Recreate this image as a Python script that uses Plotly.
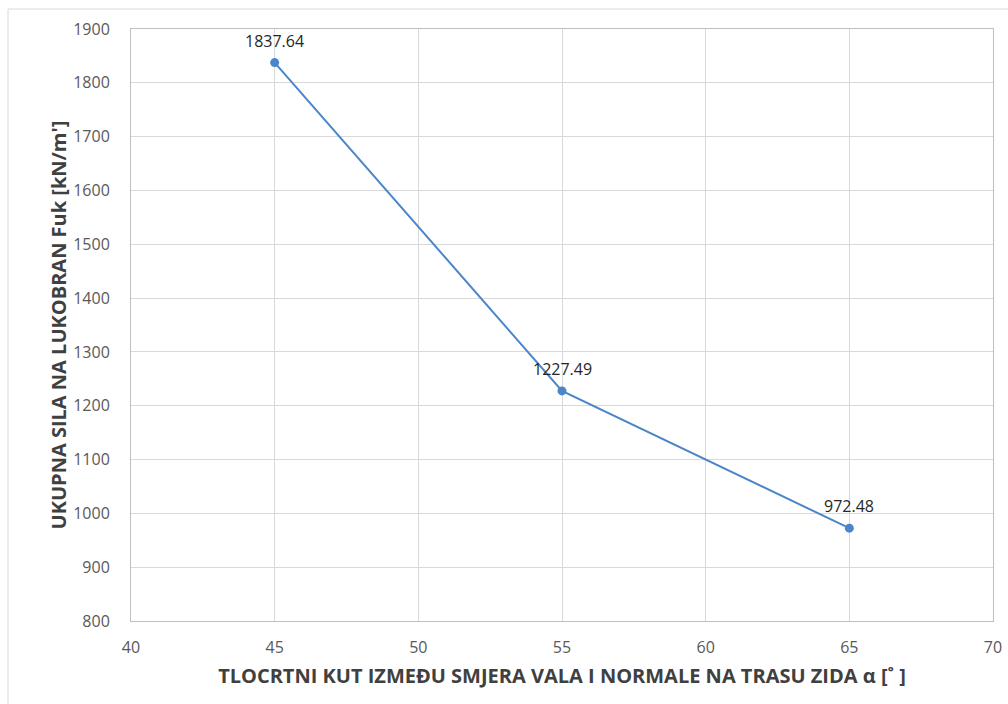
import plotly.graph_objects as go

angles = [45, 55, 65]
forces = [1837.64, 1227.49, 972.48]
labels = ["1837.64", "1227.49", "972.48"]
x_ticks = [40, 45, 50, 55, 60, 65, 70]
y_ticks = [800, 900, 1000, 1100, 1200, 1300, 1400, 1500, 1600, 1700, 1800, 1900]

FONT = "Open Sans"
BLUE = "#4a86c8"

fig = go.Figure()
fig.add_trace(go.Scatter(
    x=angles, y=forces, mode="lines+markers",
    line=dict(color=BLUE, width=2),
    marker=dict(color=BLUE, size=9),
    cliponaxis=False, showlegend=False,
))

for xv, yv, lab in zip(angles, forces, labels):
    fig.add_annotation(x=xv, y=yv, text=lab, showarrow=False,
                       yanchor="middle", xanchor="center", yshift=22,
                       font=dict(family=FONT, size=16, color="#262626"))

fig.update_layout(
    width=1008, height=704,
    margin=dict(l=131, r=15, t=29, b=83),
    paper_bgcolor="white", plot_bgcolor="white",
    font=dict(family=FONT, size=16, color="#595959"),
    xaxis=dict(
        range=[40, 70], tickvals=x_ticks, ticktext=[str(v) for v in x_ticks],
        showgrid=True, gridcolor="#d9d9d9", gridwidth=1,
        showline=True, linecolor="#bfbfbf", linewidth=1, mirror=True,
        zeroline=False, ticks="outside", ticklen=12, tickcolor="white",
        automargin=False,
        tickfont=dict(family=FONT, size=16, color="#595959"),
        title=dict(text="TLOCRTNI KUT IZMEĐU SMJERA VALA I NORMALE NA TRASU ZIDA α [˚ ]",
                   font=dict(family=FONT, size=20, color="#404040", weight="bold"),
                   standoff=11),
    ),
    yaxis=dict(
        range=[800, 1900], tickvals=y_ticks, ticktext=[str(v) for v in y_ticks],
        showgrid=True, gridcolor="#d9d9d9", gridwidth=1,
        showline=True, linecolor="#bfbfbf", linewidth=1, mirror=True,
        zeroline=False, ticks="outside", ticklen=17, tickcolor="white",
        automargin=False,
        tickfont=dict(family=FONT, size=16, color="#595959"),
        title=dict(text="UKUPNA SILA NA LUKOBRAN Fuk [kN/m']",
                   font=dict(family=FONT, size=20, color="#404040", weight="bold"),
                   standoff=1),
    ),
    shapes=[dict(type="rect", xref="paper", yref="paper",
                 x0=-123/862, x1=(1012-131)/862, y0=(621-710)/592, y1=(621-9)/592,
                 line=dict(color="#d9d9d9", width=1), fillcolor="rgba(0,0,0,0)", layer="below")],
)

fig.write_html("out.html", config={"displayModeBar": False},
               post_script="document.body.style.margin='0';document.body.style.overflow='hidden';")
